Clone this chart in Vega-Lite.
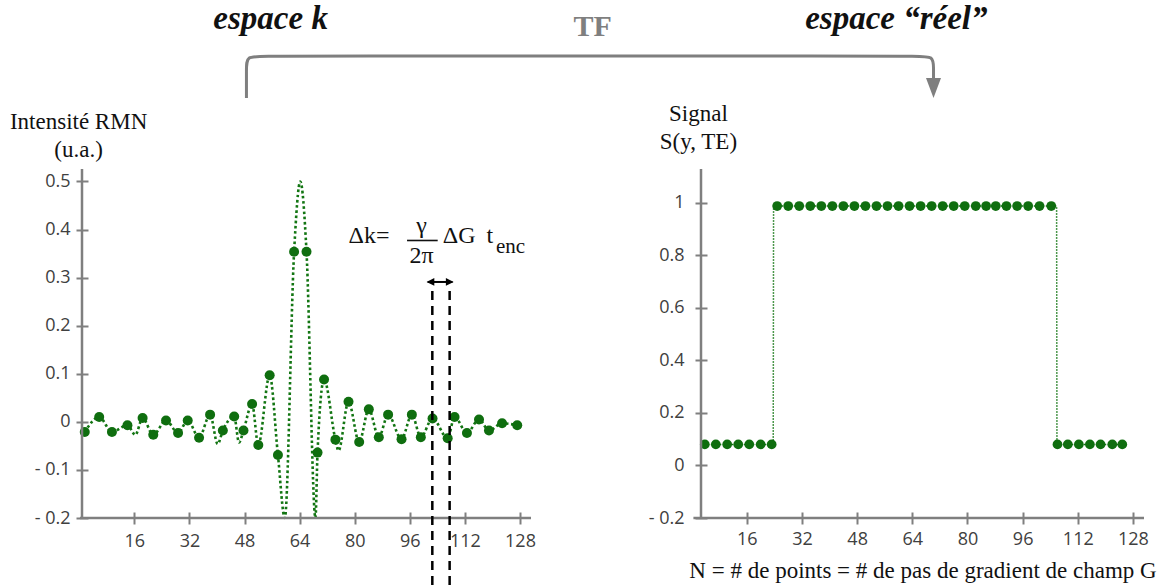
{
  "$schema": "https://vega.github.io/schema/vega-lite/v6.json",
  "padding": 0,
  "background": "white",
  "bounds": "flush",
  "spacing": 170,
  "config": {
    "view": {"stroke": null},
    "axis": {
      "domain": false, "grid": false,
      "labelFont": "Open Sans", "labelFontSize": 18, "labelColor": "#404040",
      "tickColor": "#7f7f7f", "tickWidth": 2, "tickSize": 12, "offset": -6,
      "labelFlush": false, "labelOverlap": false,
      "titleFont": "Liberation Serif", "titleFontSize": 23, "titleColor": "#111111", "titleFontWeight": "normal"
    },
    "text": {"font": "Liberation Serif", "color": "#111111"}
  },
  "datasets": {
    "one": [{}],
    "kpts": [
      {"n": 1.6, "v": -0.021}, {"n": 5.8, "v": 0.010}, {"n": 9.5, "v": -0.021}, {"n": 14.0, "v": -0.007},
      {"n": 18.4, "v": 0.008}, {"n": 21.5, "v": -0.027}, {"n": 25.2, "v": 0.003}, {"n": 28.7, "v": -0.023},
      {"n": 31.5, "v": 0.003}, {"n": 34.8, "v": -0.033}, {"n": 38.0, "v": 0.015}, {"n": 41.7, "v": -0.018},
      {"n": 45.0, "v": 0.011}, {"n": 47.7, "v": -0.018}, {"n": 50.2, "v": 0.037}, {"n": 52.0, "v": -0.048},
      {"n": 55.3, "v": 0.097}, {"n": 57.7, "v": -0.069}, {"n": 62.4, "v": 0.354}, {"n": 66.0, "v": 0.354},
      {"n": 69.2, "v": -0.064}, {"n": 71.1, "v": 0.088}, {"n": 74.4, "v": -0.037}, {"n": 78.2, "v": 0.042},
      {"n": 81.3, "v": -0.042}, {"n": 84.1, "v": 0.026}, {"n": 87.0, "v": -0.032}, {"n": 89.7, "v": 0.015},
      {"n": 93.6, "v": -0.036}, {"n": 96.6, "v": 0.015}, {"n": 99.2, "v": -0.032}, {"n": 102.6, "v": 0.007},
      {"n": 107.0, "v": -0.034}, {"n": 109.0, "v": 0.010}, {"n": 112.6, "v": -0.023}, {"n": 116.1, "v": 0.005},
      {"n": 119.0, "v": -0.018}, {"n": 122.8, "v": -0.003}, {"n": 127.2, "v": -0.007}
    ],
    "kline": [
      {"n": 1.6, "v": -0.021}, {"n": 5.8, "v": 0.010}, {"n": 9.5, "v": -0.021}, {"n": 14.0, "v": -0.007},
      {"n": 16.3, "v": -0.027}, {"n": 18.4, "v": 0.008}, {"n": 21.5, "v": -0.027}, {"n": 25.2, "v": 0.003},
      {"n": 28.7, "v": -0.023}, {"n": 31.5, "v": 0.003}, {"n": 34.8, "v": -0.033}, {"n": 38.0, "v": 0.015},
      {"n": 40.2, "v": -0.046}, {"n": 41.7, "v": -0.018}, {"n": 45.0, "v": 0.011}, {"n": 46.4, "v": -0.043},
      {"n": 47.7, "v": -0.018}, {"n": 50.2, "v": 0.037}, {"n": 52.0, "v": -0.048}, {"n": 55.3, "v": 0.097},
      {"n": 57.7, "v": -0.069}, {"n": 59.7, "v": -0.2}, {"n": 62.4, "v": 0.354}, {"n": 64.2, "v": 0.5},
      {"n": 66.0, "v": 0.354}, {"n": 68.6, "v": -0.2}, {"n": 69.2, "v": -0.064}, {"n": 71.1, "v": 0.088},
      {"n": 74.4, "v": -0.037}, {"n": 75.3, "v": -0.06}, {"n": 78.2, "v": 0.042}, {"n": 81.3, "v": -0.042},
      {"n": 84.1, "v": 0.026}, {"n": 87.0, "v": -0.032}, {"n": 89.7, "v": 0.015}, {"n": 93.6, "v": -0.036},
      {"n": 96.6, "v": 0.015}, {"n": 99.2, "v": -0.032}, {"n": 102.6, "v": 0.007}, {"n": 107.0, "v": -0.034},
      {"n": 109.0, "v": 0.010}, {"n": 112.6, "v": -0.023}, {"n": 116.1, "v": 0.005}, {"n": 119.0, "v": -0.018},
      {"n": 122.8, "v": -0.003}, {"n": 127.2, "v": -0.007}
    ],
    "spts": [
      {"n": 3.8, "v": 0.08}, {"n": 7.0, "v": 0.08}, {"n": 10.3, "v": 0.08}, {"n": 13.5, "v": 0.08},
      {"n": 16.7, "v": 0.08}, {"n": 20.0, "v": 0.08}, {"n": 23.2, "v": 0.08},
      {"n": 24.8, "v": 0.987}, {"n": 28.0, "v": 0.987}, {"n": 31.2, "v": 0.987}, {"n": 34.4, "v": 0.987},
      {"n": 37.6, "v": 0.987}, {"n": 40.8, "v": 0.987}, {"n": 44.0, "v": 0.987}, {"n": 47.2, "v": 0.987},
      {"n": 50.4, "v": 0.987}, {"n": 53.6, "v": 0.987}, {"n": 56.8, "v": 0.987}, {"n": 60.0, "v": 0.987},
      {"n": 63.2, "v": 0.987}, {"n": 66.4, "v": 0.987}, {"n": 69.6, "v": 0.987}, {"n": 72.8, "v": 0.987},
      {"n": 76.0, "v": 0.987}, {"n": 79.2, "v": 0.987}, {"n": 82.4, "v": 0.987}, {"n": 85.4, "v": 0.987},
      {"n": 88.2, "v": 0.987}, {"n": 91.3, "v": 0.987}, {"n": 94.4, "v": 0.987}, {"n": 97.6, "v": 0.987},
      {"n": 100.9, "v": 0.987}, {"n": 104.3, "v": 0.987},
      {"n": 106.1, "v": 0.08}, {"n": 109.1, "v": 0.08}, {"n": 112.3, "v": 0.08}, {"n": 115.5, "v": 0.08},
      {"n": 118.6, "v": 0.08}, {"n": 122.0, "v": 0.08}, {"n": 124.9, "v": 0.08}
    ],
    "sline": [
      {"n": 3.8, "v": 0.08}, {"n": 23.2, "v": 0.08}, {"n": 23.65, "v": 0.08}, {"n": 23.75, "v": 0.987},
      {"n": 104.3, "v": 0.987}, {"n": 105.85, "v": 0.987}, {"n": 105.95, "v": 0.08}, {"n": 124.9, "v": 0.08}
    ],
    "arrow": [
      {"i": 1, "ax": 48.56, "ay": 0.6737}, {"i": 2, "ax": 48.56, "ay": 0.735}, {"i": 3, "ax": 48.56, "ay": 0.7612},
      {"i": 4, "ax": 53.5, "ay": 0.7612}, {"i": 5, "ax": 243.5, "ay": 0.7612}, {"i": 6, "ax": 248.1, "ay": 0.7612},
      {"i": 7, "ax": 248.1, "ay": 0.735}, {"i": 8, "ax": 248.1, "ay": 0.712}
    ]
  },
  "hconcat": [
    {
      "width": 449,
      "height": 349,
      "layer": [
        {
          "data": {"name": "kline"},
          "mark": {"type": "line", "interpolate": "monotone", "color": "#127512", "strokeWidth": 2.6, "strokeDash": [2.6, 2.6], "clip": false},
          "encoding": {
            "x": {"field": "n", "type": "quantitative", "scale": {"domain": [0.8, 131.2], "nice": false, "zero": false},
                  "axis": {"title": null, "values": [16, 32, 48, 64, 80, 96, 112, 128], "labelPadding": 8}},
            "y": {"field": "v", "type": "quantitative", "scale": {"domain": [-0.2, 0.526], "nice": false, "zero": false},
                  "axis": {"title": null, "values": [-0.2, -0.1, 0, 0.1, 0.2, 0.3, 0.4, 0.5], "labelPadding": 6,
                           "labelExpr": "datum.value < 0 ? '- ' + format(-datum.value, '~g') : format(datum.value, '~g')"}}
          }
        },
        {
          "data": {"name": "kpts"},
          "mark": {"type": "circle", "color": "#0f6e0f", "size": 100, "opacity": 1, "clip": false},
          "encoding": {
            "x": {"field": "n", "type": "quantitative"},
            "y": {"field": "v", "type": "quantitative"}
          }
        },
        {
          "data": {"name": "one"},
          "mark": {"type": "rule", "color": "#7f7f7f", "strokeWidth": 2.5, "clip": false},
          "encoding": {"x": {"datum": 0.8}, "y": {"datum": -0.2}, "y2": {"datum": 0.526}}
        },
        {
          "data": {"name": "one"},
          "mark": {"type": "rule", "color": "#7f7f7f", "strokeWidth": 2.5, "clip": false},
          "encoding": {"x": {"datum": 0.2}, "x2": {"datum": 131.2}, "y": {"datum": -0.2}}
        },
        {
          "data": {"name": "one"},
          "mark": {"type": "rule", "color": "#000000", "strokeWidth": 2.5, "strokeDash": [9, 6], "clip": false},
          "encoding": {"x": {"datum": 102.54}, "y": {"datum": 0.272}, "y2": {"datum": -0.3457}}
        },
        {
          "data": {"name": "one"},
          "mark": {"type": "rule", "color": "#000000", "strokeWidth": 2.5, "strokeDash": [9, 6], "clip": false},
          "encoding": {"x": {"datum": 107.57}, "y": {"datum": 0.272}, "y2": {"datum": -0.3457}}
        },
        {
          "data": {"name": "one"},
          "mark": {"type": "rule", "color": "#000000", "strokeWidth": 2, "clip": false},
          "encoding": {"x": {"datum": 101.2}, "x2": {"datum": 108.4}, "y": {"datum": 0.291}}
        },
        {
          "data": {"name": "one"},
          "mark": {"type": "point", "shape": "M 1 -1 L -1 0 L 1 1 Z", "filled": true, "color": "#000000", "opacity": 1, "size": 60, "clip": false},
          "encoding": {"x": {"datum": 102.0}, "y": {"datum": 0.291}}
        },
        {
          "data": {"name": "one"},
          "mark": {"type": "point", "shape": "M -1 -1 L 1 0 L -1 1 Z", "filled": true, "color": "#000000", "opacity": 1, "size": 60, "clip": false},
          "encoding": {"x": {"datum": 107.6}, "y": {"datum": 0.291}}
        },
        {
          "data": {"name": "one"},
          "mark": {"type": "text", "text": "Δk=", "font": "Liberation Serif", "fontSize": 24, "align": "left", "baseline": "alphabetic", "clip": false},
          "encoding": {"x": {"datum": 78.23}, "y": {"datum": 0.3714}}
        },
        {
          "data": {"name": "one"},
          "mark": {"type": "text", "text": "γ", "font": "Liberation Serif", "fontSize": 24, "align": "center", "baseline": "alphabetic", "clip": false},
          "encoding": {"x": {"datum": 99.4}, "y": {"datum": 0.3929}}
        },
        {
          "data": {"name": "one"},
          "mark": {"type": "rule", "color": "#111111", "strokeWidth": 1.6, "clip": false},
          "encoding": {"x": {"datum": 95.2}, "x2": {"datum": 104.1}, "y": {"datum": 0.3773}}
        },
        {
          "data": {"name": "one"},
          "mark": {"type": "text", "text": "2π", "font": "Liberation Serif", "fontSize": 24, "align": "center", "baseline": "alphabetic", "clip": false},
          "encoding": {"x": {"datum": 99.4}, "y": {"datum": 0.3305}}
        },
        {
          "data": {"name": "one"},
          "mark": {"type": "text", "text": "ΔG", "font": "Liberation Serif", "fontSize": 24, "align": "left", "baseline": "alphabetic", "clip": false},
          "encoding": {"x": {"datum": 105.6}, "y": {"datum": 0.3714}}
        },
        {
          "data": {"name": "one"},
          "mark": {"type": "text", "text": "t", "font": "Liberation Serif", "fontSize": 24, "align": "left", "baseline": "alphabetic", "clip": false},
          "encoding": {"x": {"datum": 118.3}, "y": {"datum": 0.3714}}
        },
        {
          "data": {"name": "one"},
          "mark": {"type": "text", "text": "enc", "font": "Liberation Serif", "fontSize": 21, "align": "left", "baseline": "alphabetic", "clip": false},
          "encoding": {"x": {"datum": 121.0}, "y": {"datum": 0.3519}}
        },
        {
          "data": {"name": "one"},
          "mark": {"type": "text", "text": ["Intensité RMN", "(u.a.)"], "font": "Liberation Serif", "fontSize": 23, "lineHeight": 28, "align": "center", "baseline": "middle", "clip": false},
          "encoding": {"x": {"datum": -0.19}, "y": {"datum": 0.6238}}
        },
        {
          "data": {"name": "one"},
          "mark": {"type": "text", "text": "espace k", "font": "Liberation Serif", "fontSize": 33, "fontWeight": "bold", "fontStyle": "italic", "align": "center", "baseline": "alphabetic", "clip": false},
          "encoding": {"x": {"datum": 55.58}, "y": {"datum": 0.8172}}
        },
        {
          "data": {"name": "one"},
          "mark": {"type": "text", "text": "TF", "font": "Liberation Serif", "fontSize": 30, "fontWeight": "bold", "color": "#7f7f7f", "align": "center", "baseline": "alphabetic", "clip": false},
          "encoding": {"x": {"datum": 149.1}, "y": {"datum": 0.8027}}
        },
        {
          "data": {"name": "one"},
          "mark": {"type": "text", "text": "espace “réel”", "font": "Liberation Serif", "fontSize": 33, "fontWeight": "bold", "fontStyle": "italic", "align": "center", "baseline": "alphabetic", "clip": false},
          "encoding": {"x": {"datum": 237.3}, "y": {"datum": 0.8172}}
        },
        {
          "data": {"name": "arrow"},
          "mark": {"type": "line", "interpolate": "basis", "color": "#7f7f7f", "strokeWidth": 3, "clip": false},
          "encoding": {
            "x": {"field": "ax", "type": "quantitative"},
            "y": {"field": "ay", "type": "quantitative"},
            "order": {"field": "i", "type": "quantitative"}
          }
        },
        {
          "data": {"name": "one"},
          "mark": {"type": "point", "shape": "M -0.75 -1 L 0.75 -1 L 0 1 Z", "filled": true, "color": "#7f7f7f", "opacity": 1, "size": 400, "clip": false},
          "encoding": {"x": {"datum": 248.1}, "y": {"datum": 0.6945}}
        },
        {
          "data": {"name": "one"},
          "mark": {"type": "rule", "opacity": 0, "strokeWidth": 1, "clip": false},
          "encoding": {"x": {"datum": -22.84}, "x2": {"datum": -22.5}, "y": {"datum": 0.8755}}
        }
      ]
    },
    {
      "width": 443,
      "height": 349,
      "layer": [
        {
          "data": {"name": "sline"},
          "mark": {"type": "line", "color": "#127512", "strokeWidth": 1.5, "strokeDash": [1.5, 1.5], "clip": false},
          "encoding": {
            "x": {"field": "n", "type": "quantitative", "scale": {"domain": [2.7, 131.2], "nice": false, "zero": false},
                  "axis": {"title": "N = # de points = # de pas de gradient de champ G", "titlePadding": 11,
                           "values": [16, 32, 48, 64, 80, 96, 112, 128], "labelPadding": 6}},
            "y": {"field": "v", "type": "quantitative", "scale": {"domain": [-0.2, 1.128], "nice": false, "zero": false},
                  "axis": {"title": null, "values": [-0.2, 0, 0.2, 0.4, 0.6, 0.8, 1], "labelPadding": 11,
                           "labelExpr": "datum.value < 0 ? '- ' + format(-datum.value, '~g') : format(datum.value, '~g')"}}
          }
        },
        {
          "data": {"name": "spts"},
          "mark": {"type": "circle", "color": "#0f6e0f", "size": 95, "opacity": 1, "clip": false},
          "encoding": {
            "x": {"field": "n", "type": "quantitative"},
            "y": {"field": "v", "type": "quantitative"}
          }
        },
        {
          "data": {"name": "one"},
          "mark": {"type": "rule", "color": "#7f7f7f", "strokeWidth": 2.5, "clip": false},
          "encoding": {"x": {"datum": 2.7}, "y": {"datum": -0.2}, "y2": {"datum": 1.128}}
        },
        {
          "data": {"name": "one"},
          "mark": {"type": "rule", "color": "#7f7f7f", "strokeWidth": 2.5, "clip": false},
          "encoding": {"x": {"datum": 0.5}, "x2": {"datum": 131.2}, "y": {"datum": -0.2}}
        },
        {
          "data": {"name": "one"},
          "mark": {"type": "text", "text": ["Signal", "S(y, TE)"], "font": "Liberation Serif", "fontSize": 23, "lineHeight": 28.5, "align": "center", "baseline": "middle", "clip": false},
          "encoding": {"x": {"datum": 1.95}, "y": {"datum": 1.3373}}
        }
      ]
    }
  ]
}
